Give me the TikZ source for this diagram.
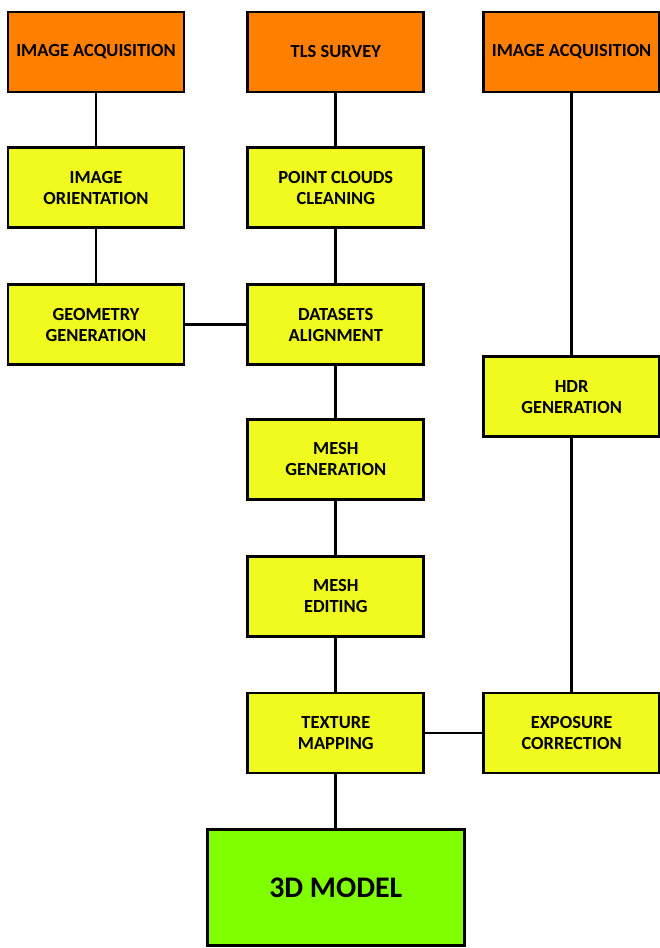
\documentclass[tikz,border=0pt]{standalone}
\usepackage{fontspec}
\setmainfont{Carlito}
\usepackage{tikz}
\usetikzlibrary{positioning}
\definecolor{srcorange}{HTML}{FF7F00}
\definecolor{taskyellow}{HTML}{F0FA1E}
\definecolor{modelgreen}{HTML}{7FFF00}
\tikzstyle{block} = [draw, rectangle, line width = 1.6pt, minimum width = 3.52cm, minimum height = 1.6cm, align = center, inner sep = 1pt, font = \bfseries\fontsize{10.5}{12}\selectfont]
\tikzstyle{source} = [block, fill = srcorange]
\tikzstyle{task} = [block, fill = taskyellow]
\tikzstyle{link} = [line width = 1.6pt]

\begin{document}
\begin{tikzpicture}

		\useasboundingbox (0,0) rectangle (13.18,-18.96);

		% Left column: images
		\node[source] at (1.92,-1.04) (acqL) {IMAGE ACQUISITION};
		\node[task, below = 1.06 cm of acqL] (orient) {IMAGE\\ORIENTATION};
		\node[task, below = 1.08 cm of orient] (geom) {GEOMETRY\\GENERATION};

		% Middle column: laser scans
		\node[source, right = 1.22 cm of acqL] (tls) {TLS SURVEY};
		\node[task, below = 1.06 cm of tls] (clean) {POINT CLOUDS\\CLEANING};
		\node[task, below = 1.08 cm of clean] (align) {DATASETS\\ALIGNMENT};
		\node[task, below = 1.04 cm of align] (meshgen) {MESH\\GENERATION};
		\node[task, below = 1.08 cm of meshgen] (meshedit) {MESH\\EDITING};
		\node[task, below = 1.08 cm of meshedit] (texture) {TEXTURE\\MAPPING};

		% Right column: HDR images
		\node[source, right = 1.14 cm of tls] (acqR) {IMAGE ACQUISITION};
		\node[task, below = 5.24 cm of acqR] (hdr) {HDR\\GENERATION};
		\node[task, right = 1.14 cm of texture] (expo) {EXPOSURE\\CORRECTION};

		% Final model
		\node[block, fill = modelgreen, minimum width = 5.14cm, minimum height = 2.32cm, font = \bfseries\fontsize{17}{20}\selectfont, below = 1.08 cm of texture] (model) {3D MODEL};

		% Connect all nodes defined above
		\draw[link] (acqL) -- (orient);
		\draw[link] (orient) -- (geom);
		\draw[link] (geom) -- (align);
		\draw[link] (tls) -- (clean);
		\draw[link] (clean) -- (align);
		\draw[link] (align) -- (meshgen);
		\draw[link] (meshgen) -- (meshedit);
		\draw[link] (meshedit) -- (texture);
		\draw[link] (texture) -- (model);
		\draw[link] (acqR) -- (hdr);
		\draw[link] (hdr) -- (expo);
		\draw[link] (expo) -- (texture);

	\end{tikzpicture}
\end{document}
